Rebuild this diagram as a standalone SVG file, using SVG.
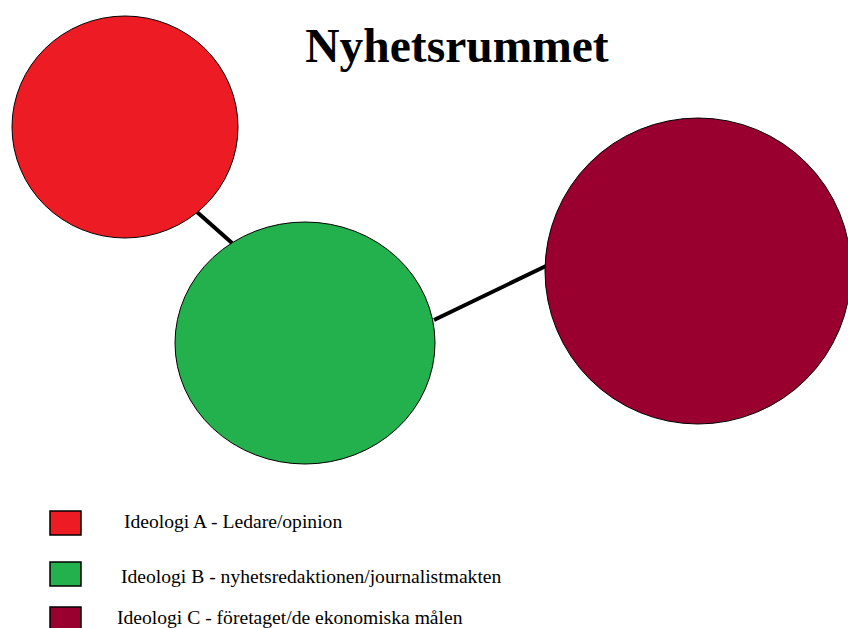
<svg xmlns="http://www.w3.org/2000/svg" width="848" height="628" viewBox="0 0 848 628">
<style>
.n{stroke:#000;stroke-width:1}
.c{stroke:#000;stroke-width:4;fill:none}
.t{font-family:"Liberation Serif",serif;fill:#000}
.l{font-family:"Liberation Serif",serif;font-size:19.6px;fill:#000}
.k{stroke:#000;stroke-width:1.5}
</style>
<rect width="848" height="628" fill="#fff"/>
<g id="connectors">
<line class="c" x1="197" y1="212" x2="232" y2="243"/>
<line class="c" x1="434" y1="320" x2="546" y2="266"/>
</g>
<g id="nodeA"><ellipse class="n" cx="125" cy="127" rx="113" ry="111" fill="#ED1C24"/></g>
<g id="nodeB"><ellipse class="n" cx="305" cy="343" rx="130" ry="121" fill="#22B14C"/></g>
<g id="nodeC"><ellipse class="n" cx="698" cy="271" rx="153" ry="153" fill="#990030"/></g>
<g id="title"><text class="t" x="457" y="62" font-size="47.5" font-weight="bold" text-anchor="middle">Nyhetsrummet</text></g>
<g id="legend">
<rect class="k" x="50" y="511" width="31" height="24" fill="#ED1C24"/>
<text class="l" x="124" y="528">Ideologi A - Ledare/opinion</text>
<rect class="k" x="50" y="562" width="31" height="24" fill="#22B14C"/>
<text class="l" x="121" y="583">Ideologi B - nyhetsredaktionen/journalistmakten</text>
<rect class="k" x="50" y="607" width="31" height="24" fill="#990030"/>
<text class="l" x="117" y="624">Ideologi C - företaget/de ekonomiska målen</text>
</g>
</svg>
